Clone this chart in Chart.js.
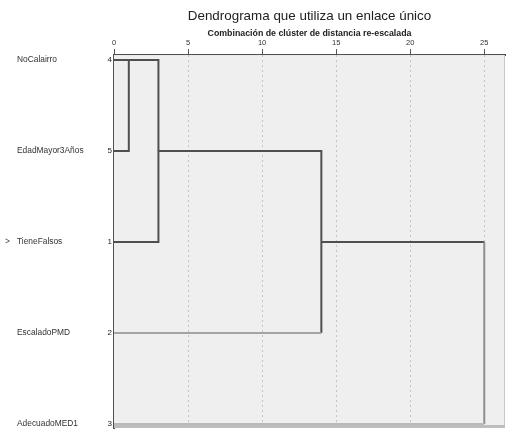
<!DOCTYPE html>
<html>
<head>
<meta charset="utf-8">
<script src="https://cdn.jsdelivr.net/npm/chart.js@4.4.1/dist/chart.umd.min.js"></script>
<style>
  html, body { margin: 0; padding: 0; background: #ffffff; }
  #wrap { width: 507px; height: 436px; }
</style>
</head>
<body>
<div id="wrap"><canvas id="c" width="507" height="436"></canvas></div>
<script>
// Variables in the order they appear down the dendrogram
const variableNames = ['NoCalairro', 'EdadMayor3Años', 'TieneFalsos', 'EscaladoPMD', 'AdecuadoMED1'];
const caseNumbers = ['4', '5', '1', '2', '3'];
// Agglomeration steps: which two branches (by row position) join, and at what rescaled distance
const mergeUpperRow = [0, 0, 1, 2];
const mergeLowerRow = [1, 2, 3, 4];
const mergeDistance = [1, 3, 14, 25];
// Distance axis tick labels
const distanceTicks = [0, 5, 10, 15, 20, 25];
const markedRow = 2;

// Build one stepped polyline per merge: upper branch -> join -> lower branch
const branchHeight = {};            // row position -> height of the branch that sits there
const mergeLines = mergeDistance.map((d, i) => {
  const up = mergeUpperRow[i], lo = mergeLowerRow[i];
  const hUp = branchHeight[up] || 0, hLo = branchHeight[lo] || 0;
  const pts = [{x: hUp, y: up}, {x: d, y: up}, {x: d, y: lo}, {x: hLo, y: lo}];
  delete branchHeight[up]; delete branchHeight[lo];
  const newRow = (i === 0) ? up : (up + lo) / 2;
  branchHeight[newRow] = d;
  return pts;
});

const dark = '#4f4f4f';
const segColours = [
  [dark, dark, dark],
  [dark, dark, dark],
  [dark, dark, '#a4a4a4'],
  [dark, '#8e8e8e', '#b9b9b9']
];

const datasets = mergeLines.map((pts, i) => ({
  data: pts,
  xAxisID: 'x',
  yAxisID: 'yNum',
  showLine: true,
  borderWidth: 2,
  pointRadius: 0,
  borderColor: dark,
  segment: { borderColor: ctx => segColours[i][ctx.p0DataIndex] },
  clip: false
}));

const FONT = '"Liberation Sans", Arial, sans-serif';

const plotBackdrop = {
  id: 'plotBackdrop',
  beforeDatasetsDraw(chart) {
    const {ctx, chartArea: a} = chart;
    ctx.save();
    ctx.fillStyle = '#efefef';
    ctx.fillRect(a.left, a.top, a.right - a.left, a.bottom - a.top);
    // dotted reference lines at each labelled distance
    ctx.strokeStyle = '#c2c2c2';
    ctx.lineWidth = 1;
    ctx.setLineDash([2, 3]);
    distanceTicks.forEach(v => {
      if (v === 0) return;
      const x = Math.round(chart.scales.x.getPixelForValue(v)) + 0.5;
      ctx.beginPath();
      ctx.moveTo(x, a.top);
      ctx.lineTo(x, a.bottom);
      ctx.stroke();
    });
    ctx.setLineDash([]);
    ctx.strokeStyle = '#c8c8c8';
    ctx.beginPath();
    ctx.moveTo(a.right - 0.5, a.top);
    ctx.lineTo(a.right - 0.5, a.bottom);
    ctx.stroke();
    ctx.strokeStyle = '#bdbdbd';
    ctx.lineWidth = 3;
    ctx.beginPath();
    ctx.moveTo(a.left, a.bottom - 1.5);
    ctx.lineTo(a.right, a.bottom - 1.5);
    ctx.stroke();
    ctx.restore();
  },
  afterDraw(chart) {
    const {ctx} = chart;
    const y = chart.scales.yNum.getPixelForValue(markedRow);
    ctx.save();
    ctx.fillStyle = '#444';
    ctx.font = '8.5px ' + FONT;
    ctx.textBaseline = 'middle';
    ctx.fillText('>', 5, y);
    ctx.restore();
  }
};

const rowScale = (extra) => Object.assign({
  type: 'linear',
  position: 'left',
  reverse: true,
  min: -0.055,
  max: 4.045,
  afterBuildTicks: s => { s.ticks = caseNumbers.map((_, i) => ({value: i})); },
  grid: { display: false, drawTicks: false, tickLength: 0 },
}, extra);

new Chart(document.getElementById('c'), {
  type: 'scatter',
  data: { datasets },
  plugins: [plotBackdrop],
  options: {
    responsive: false,
    animation: false,
    events: [],
    layout: { padding: { left: 17, right: 2, top: 8, bottom: 8 } },
    plugins: {
      legend: { display: false },
      tooltip: { enabled: false },
      title: {
        display: true,
        text: 'Dendrograma que utiliza un enlace único',
        fullSize: false,
        color: '#222',
        font: { family: FONT, size: 13.4, weight: 'normal' },
        padding: { top: 0, bottom: 3 }
      },
      subtitle: {
        display: true,
        text: 'Combinación de clúster de distancia re-escalada',
        fullSize: false,
        color: '#222',
        font: { family: FONT, size: 8.8, weight: 'bold' },
        padding: { top: 1, bottom: 0 }
      }
    },
    scales: {
      y: { display: false },
      x: {
        type: 'linear',
        position: 'top',
        min: 0,
        max: 26.4,
        afterBuildTicks: s => { s.ticks = distanceTicks.map(v => ({value: v})); },
        afterFit: s => { s.height = 16.4; },
        ticks: {
          color: '#333',
          padding: 2,
          font: { family: FONT, size: 7.5 },
          maxRotation: 0
        },
        grid: {
          drawOnChartArea: false,
          tickColor: '#555',
          tickLength: 6,
          drawTicks: true
        },
        border: { display: true, color: '#505050', width: 2 }
      },
      yNum: rowScale({
        weight: 0,
        afterFit: s => { s.width = 12; },
        ticks: {
          color: '#222',
          padding: 2,
          font: { family: FONT, size: 8 },
          callback: (v) => caseNumbers[v]
        },
        border: { display: true, color: '#505050', width: 2 }
      }),
      yName: rowScale({
        weight: 1,
        afterFit: s => { s.width = 85; },
        ticks: {
          color: '#333',
          padding: 0,
          crossAlign: 'far',
          font: { family: FONT, size: 8.4 },
          callback: (v) => variableNames[v]
        },
        border: { display: false }
      })
    }
  }
});
</script>
</body>
</html>
